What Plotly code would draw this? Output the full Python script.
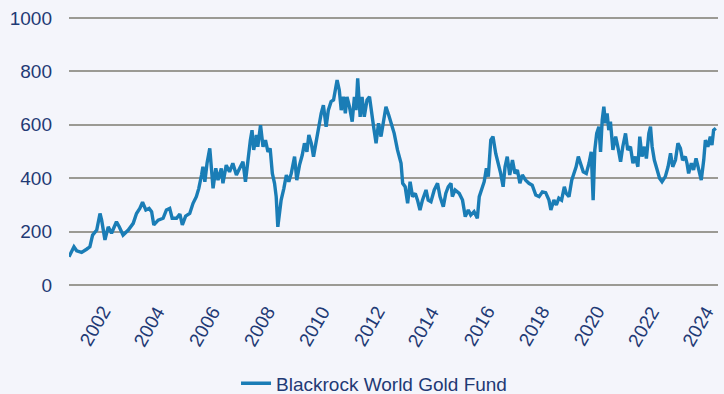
import plotly.graph_objects as go

# Fund value over time (decimal years)
years = [
    2000.40, 2000.50, 2000.58, 2000.68, 2000.86, 2001.04, 2001.16, 2001.26, 2001.41, 2001.53,
    2001.59, 2001.71, 2001.83, 2001.95, 2002.13, 2002.23, 2002.37, 2002.56, 2002.74, 2002.86,
    2002.98, 2003.08, 2003.20, 2003.32, 2003.41, 2003.49, 2003.65, 2003.83, 2003.95, 2004.07,
    2004.16, 2004.32, 2004.44, 2004.53, 2004.65, 2004.80, 2004.92, 2005.04, 2005.13, 2005.23,
    2005.28, 2005.35, 2005.43, 2005.53, 2005.59, 2005.65, 2005.75, 2005.83, 2005.95, 2006.01,
    2006.13, 2006.25, 2006.37, 2006.50, 2006.62, 2006.74, 2006.83, 2006.92, 2007.01, 2007.07,
    2007.13, 2007.23, 2007.28, 2007.38, 2007.47, 2007.56, 2007.65, 2007.73, 2007.81, 2007.89,
    2007.95, 2008.01, 2008.07, 2008.13, 2008.23, 2008.32, 2008.41, 2008.50, 2008.62, 2008.70,
    2008.80, 2008.90, 2008.98, 2009.07, 2009.14, 2009.23, 2009.31, 2009.41, 2009.50, 2009.59,
    2009.67, 2009.77, 2009.85, 2009.95, 2010.04, 2010.11, 2010.17, 2010.25, 2010.32, 2010.40,
    2010.47, 2010.53, 2010.62, 2010.72, 2010.80, 2010.86, 2010.92, 2011.01, 2011.08, 2011.16,
    2011.26, 2011.35, 2011.43, 2011.50, 2011.59, 2011.68, 2011.77, 2011.85, 2011.95, 2012.05,
    2012.13, 2012.25, 2012.37, 2012.50, 2012.56, 2012.65, 2012.74, 2012.83, 2012.92, 2013.02,
    2013.10, 2013.19, 2013.28, 2013.41, 2013.49, 2013.59, 2013.71, 2013.83, 2013.92, 2014.04,
    2014.13, 2014.22, 2014.32, 2014.37, 2014.47, 2014.62, 2014.74, 2014.84, 2014.95, 2015.04,
    2015.16, 2015.28, 2015.35, 2015.43, 2015.53, 2015.61, 2015.68, 2015.77, 2015.85, 2015.95,
    2016.05, 2016.13, 2016.22, 2016.29, 2016.37, 2016.46, 2016.56, 2016.65, 2016.74, 2016.83,
    2016.92, 2017.04, 2017.16, 2017.28, 2017.41, 2017.53, 2017.65, 2017.77, 2017.89, 2017.96,
    2018.07, 2018.16, 2018.25, 2018.35, 2018.45, 2018.52, 2018.62, 2018.72, 2018.80, 2018.88,
    2018.96, 2019.04, 2019.14, 2019.25, 2019.35, 2019.43, 2019.50, 2019.56, 2019.63, 2019.71,
    2019.77, 2019.83, 2019.89, 2019.95, 2020.01, 2020.07, 2020.13, 2020.22, 2020.32, 2020.40,
    2020.50, 2020.58, 2020.68, 2020.76, 2020.86, 2020.95, 2021.04, 2021.13, 2021.20, 2021.28,
    2021.37, 2021.44, 2021.53, 2021.59, 2021.65, 2021.73, 2021.83, 2021.92, 2022.01, 2022.13,
    2022.23, 2022.32, 2022.40, 2022.50, 2022.59, 2022.68, 2022.76, 2022.86, 2022.92, 2022.98,
    2023.08, 2023.16, 2023.25, 2023.35, 2023.44, 2023.53, 2023.59, 2023.68, 2023.77, 2023.83,
    2023.89, 2023.97,
]

values = [
    106, 131, 143, 128, 122, 134, 143, 187, 206, 268,
    243, 169, 218, 194, 237, 218, 187, 206, 231, 268,
    287, 310, 281, 287, 275, 225, 243, 250, 281, 287,
    250, 250, 266, 225, 258, 268, 306, 331, 362, 412,
    443, 387, 456, 512, 443, 362, 437, 393, 437, 381,
    449, 424, 456, 412, 437, 462, 387, 481, 543, 580,
    506, 562, 518, 599, 518, 543, 499, 512, 418, 381,
    331, 218, 268, 318, 362, 412, 387, 418, 481, 393,
    449, 487, 531, 499, 562, 531, 481, 543, 587, 643,
    674, 593, 655, 687, 693, 737, 768, 730, 655, 705,
    643, 705, 668, 612, 705, 655, 774, 630, 705, 630,
    693, 705, 655, 593, 531, 606, 556, 606, 668, 637,
    606, 568, 506, 456, 381, 368, 306, 387, 331, 343,
    318, 281, 318, 356, 318, 312, 356, 381, 331, 293,
    343, 368, 381, 331, 356, 343, 318, 256, 281, 262,
    275, 250, 331, 356, 387, 437, 406, 543, 556, 493,
    456, 418, 368, 443, 481, 412, 468, 418, 431, 381,
    412, 393, 381, 374, 337, 331, 349, 346, 318, 281,
    318, 300, 325, 318, 368, 343, 331, 393, 418, 443,
    481, 456, 424, 418, 456, 499, 318, 506, 568, 593,
    499, 618, 668, 606, 643, 580, 612, 506, 556, 518,
    462, 518, 568, 506, 518, 456, 481, 443, 556, 481,
    518, 474, 568, 593, 518, 468, 431, 400, 387, 406,
    443, 493, 443, 468, 531, 512, 468, 481, 456, 418,
    456, 431, 474, 431, 393, 468, 543, 518, 556, 524,
    580, 587,
]

year_ticks = list(range(2002, 2025, 2))
value_ticks = [0, 200, 400, 600, 800, 1000]

navy = "#1f3a75"
grid = "#9b9a94"
bg = "#f4f5fb"
font_family = "Liberation Sans, Arial, sans-serif"

fig = go.Figure(
    go.Scatter(
        x=years,
        y=values,
        mode="lines",
        name="Blackrock World Gold Fund",
        line=dict(color="#1a7db6", width=3.4),
    )
)

# Rotated year labels, hung from the tick position by their upper-right corner
year_labels = [
    dict(
        x=yr,
        xref="x",
        y=0,
        yref="paper",
        text=str(yr),
        showarrow=False,
        textangle=-60,
        xanchor="right",
        yanchor="top",
        xshift=4,
        yshift=-15,
        font=dict(family=font_family, size=19, color=navy),
    )
    for yr in year_ticks
]

fig.update_layout(
    width=724,
    height=394,
    margin=dict(l=69, r=6, t=17, b=109, autoexpand=False),
    paper_bgcolor=bg,
    plot_bgcolor=bg,
    font=dict(family=font_family, size=19, color=navy),
    showlegend=True,
    legend=dict(
        orientation="h",
        x=0.47,
        xanchor="center",
        y=-0.367,
        yanchor="middle",
        font=dict(size=19, color=navy),
        bgcolor="rgba(0,0,0,0)",
    ),
    annotations=year_labels,
    xaxis=dict(
        range=[2000.4, 2024.05],
        tickmode="array",
        tickvals=year_ticks,
        showticklabels=False,
        showgrid=False,
        zeroline=False,
        showline=False,
        ticks="",
        automargin=False,
    ),
    yaxis=dict(
        range=[0, 1004],
        tickmode="array",
        tickvals=value_ticks,
        showgrid=True,
        gridcolor=grid,
        gridwidth=1.5,
        zeroline=True,
        zerolinecolor=grid,
        zerolinewidth=1.5,
        showline=False,
        ticks="",
        ticklabelstandoff=16,
        automargin=False,
    ),
)

fig.write_html("out.html")
